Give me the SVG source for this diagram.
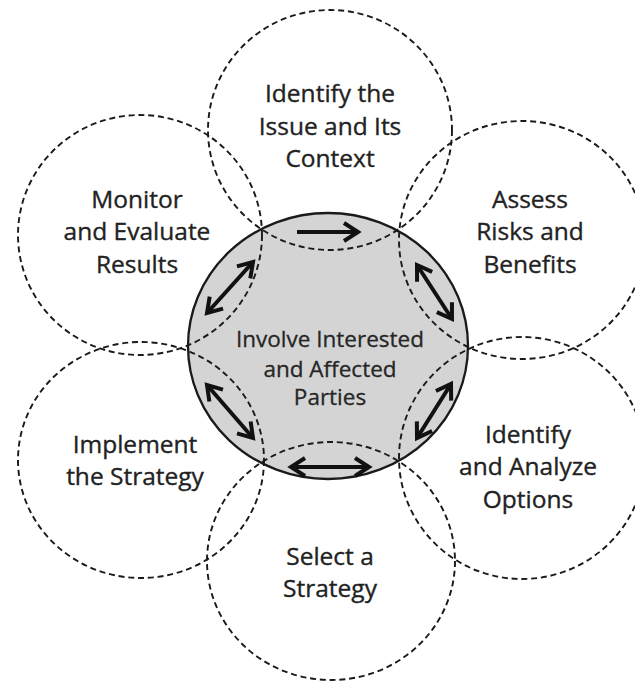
<svg xmlns="http://www.w3.org/2000/svg" width="635" height="684" viewBox="0 0 635 684">
<defs>
<style>
.bg{fill:#ffffff}
.center{fill:#d4d4d4;stroke:#1a1a1a;stroke-width:2.3}
.outer{fill:none;stroke:#1a1a1a;stroke-width:1.9;stroke-dasharray:6 3.8}
.lbl{font-family:"Open Sans","Noto Sans","Liberation Sans",sans-serif;font-size:24.5px;fill:#222;stroke:#222;stroke-width:0.35;text-anchor:middle}
.clbl{font-family:"Open Sans","Noto Sans","Liberation Sans",sans-serif;font-size:22.5px;fill:#262626;stroke:#262626;stroke-width:0.3;text-anchor:middle}
.arr{fill:none;stroke:#111;stroke-width:4;marker-end:url(#head)}
.arr2{fill:none;stroke:#111;stroke-width:4;marker-end:url(#head);marker-start:url(#head)}
</style>
<marker id="head" viewBox="-3 -3 22 26" refX="15" refY="10" markerWidth="22" markerHeight="26" markerUnits="userSpaceOnUse" orient="auto-start-reverse">
<path d="M1,1 L15,10 L1,19" fill="none" stroke="#111" stroke-width="4" stroke-linejoin="miter"/>
</marker>
</defs>
<rect class="bg" x="0" y="0" width="635" height="684"/>
<g id="node-involve">
<ellipse class="center" cx="328" cy="346" rx="140" ry="133"/>
<text class="clbl" x="330" y="347">Involve Interested</text>
<text class="clbl" x="330" y="377">and Affected</text>
<text class="clbl" x="330" y="405">Parties</text>
</g>
<g id="node-identify-issue">
<ellipse class="outer" cx="330" cy="130" rx="122" ry="120"/>
<text class="lbl" x="330" y="102">Identify the</text>
<text class="lbl" x="330" y="135">Issue and Its</text>
<text class="lbl" x="330" y="167">Context</text>
</g>
<g id="node-assess">
<ellipse class="outer" cx="522" cy="240" rx="123" ry="119"/>
<text class="lbl" x="530" y="208">Assess</text>
<text class="lbl" x="530" y="240">Risks and</text>
<text class="lbl" x="530" y="273">Benefits</text>
</g>
<g id="node-options">
<ellipse class="outer" cx="522" cy="458" rx="123" ry="121"/>
<text class="lbl" x="528" y="443">Identify</text>
<text class="lbl" x="528" y="475">and Analyze</text>
<text class="lbl" x="528" y="508">Options</text>
</g>
<g id="node-select">
<ellipse class="outer" cx="331" cy="561" rx="124" ry="119"/>
<text class="lbl" x="330" y="565">Select a</text>
<text class="lbl" x="330" y="597">Strategy</text>
</g>
<g id="node-implement">
<ellipse class="outer" cx="141" cy="460" rx="123" ry="118"/>
<text class="lbl" x="135" y="453">Implement</text>
<text class="lbl" x="135" y="485">the Strategy</text>
</g>
<g id="node-monitor">
<ellipse class="outer" cx="140" cy="235" rx="122" ry="120"/>
<text class="lbl" x="137" y="208">Monitor</text>
<text class="lbl" x="137" y="240">and Evaluate</text>
<text class="lbl" x="137" y="273">Results</text>
</g>
<g id="connectors">
<path class="arr" d="M297,232 L358,232"/>
<path class="arr2" d="M417,265 L452,319"/>
<path class="arr2" d="M451,384 L417,438"/>
<path class="arr2" d="M369,467 L291,467"/>
<path class="arr2" d="M253,438 L207,385"/>
<path class="arr2" d="M207,313 L253,262"/>
</g>
</svg>
